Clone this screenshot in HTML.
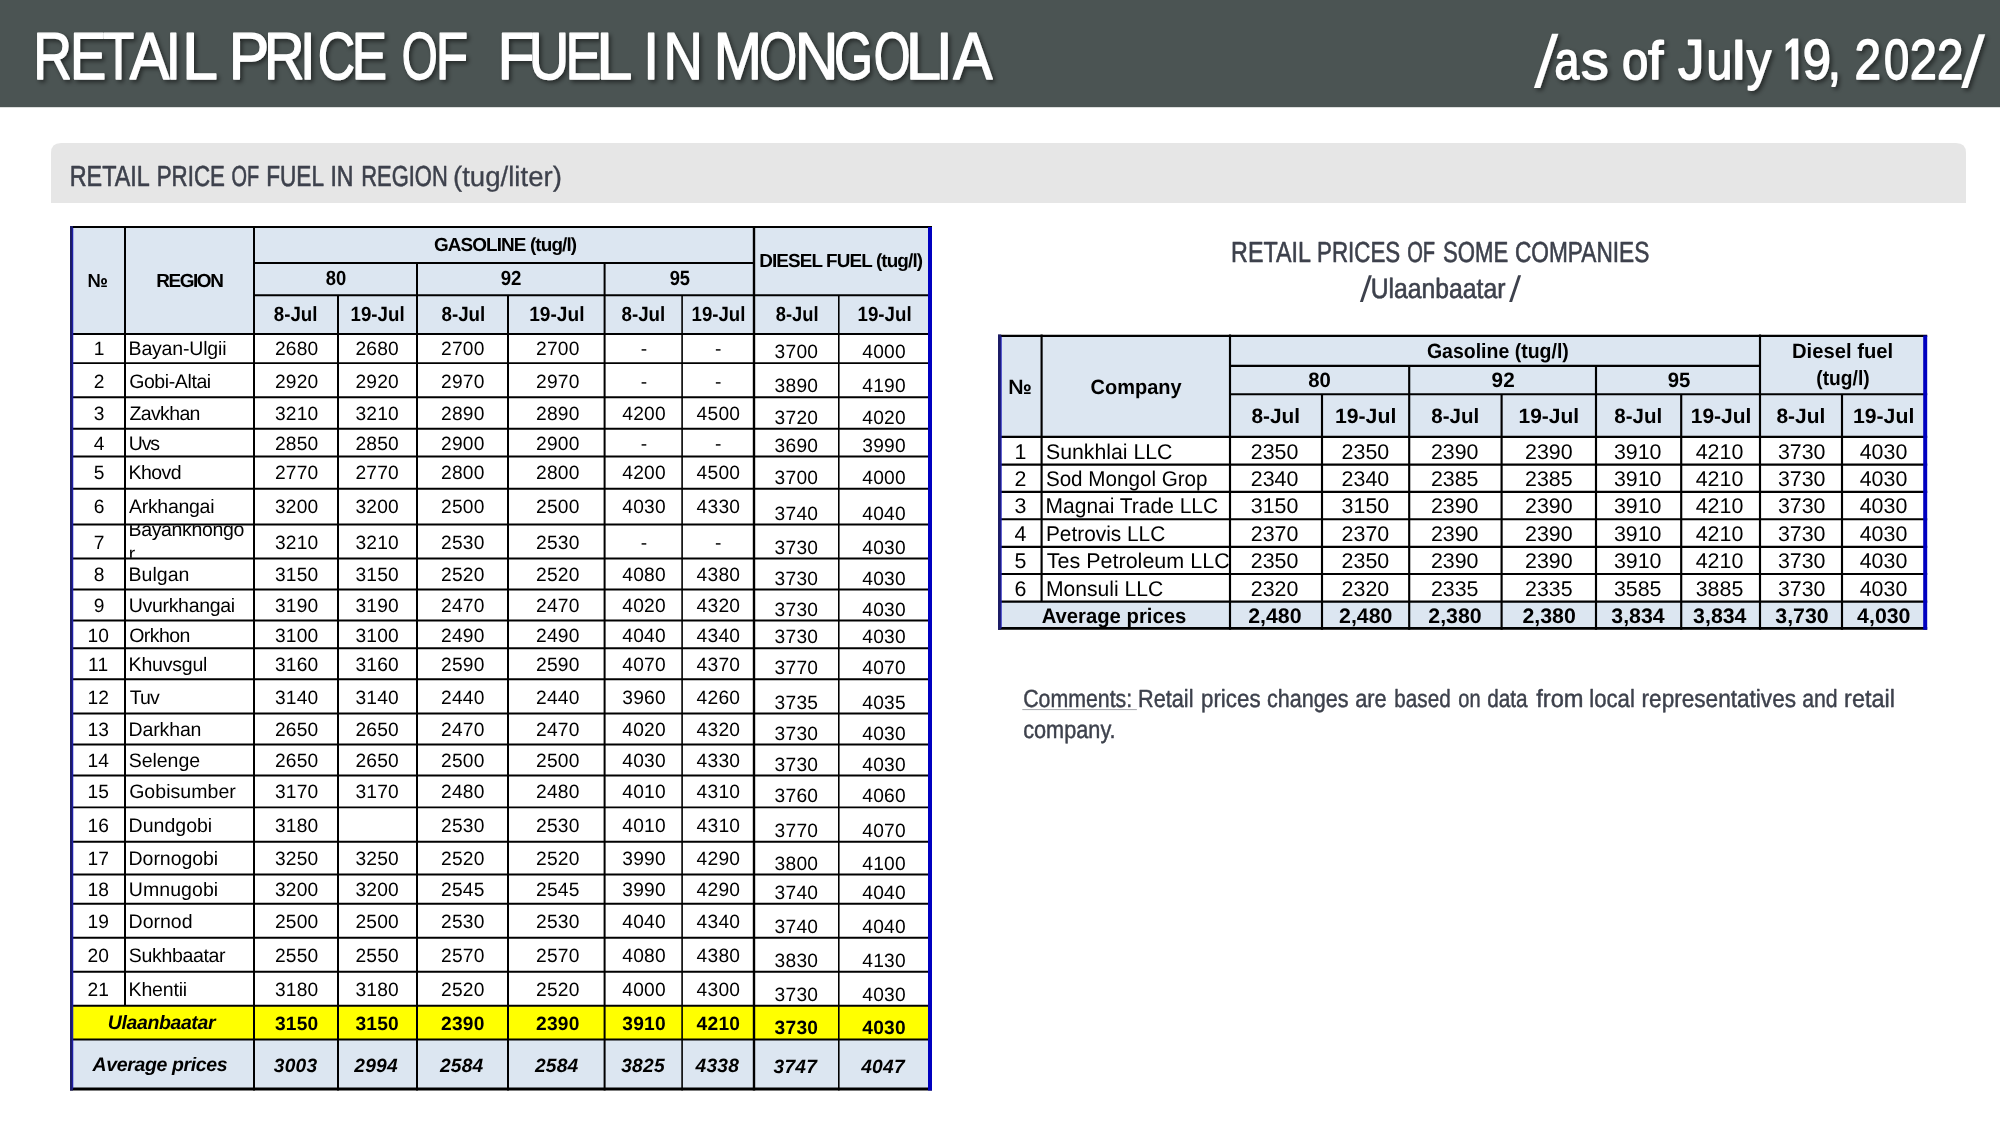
<!DOCTYPE html>
<html><head><meta charset="utf-8"><title>Retail price of fuel in Mongolia</title>
<style>html,body{margin:0;padding:0;background:#fff;}body{width:2000px;height:1125px;overflow:hidden;font-family:"Liberation Sans",sans-serif;}svg{display:block;will-change:transform;}svg text{text-rendering:geometricPrecision;font-family:"Liberation Sans",sans-serif;}</style>
</head><body>
<svg width="2000" height="1125" viewBox="0 0 2000 1125">
<defs><filter id="sh" x="-5%" y="-20%" width="110%" height="150%"><feDropShadow dx="2.3" dy="2.5" stdDeviation="1.9" flood-color="#000" flood-opacity="0.5"/></filter><linearGradient id="hb" x1="0" y1="0" x2="0" y2="1"><stop offset="0" stop-color="#4b5453"/><stop offset="1" stop-color="#4b5453"/></linearGradient></defs>
<rect x="0" y="0" width="2000" height="1125" fill="#fff"/>
<rect x="0" y="0" width="2000" height="107.2" fill="#4b5453"/>
<path d="M51 203 V153 Q51 143 61 143 H1956 Q1966 143 1966 153 V203 Z" fill="#e6e6e6"/>
<g filter="url(#sh)" fill="#fff">
<text x="33.17" y="78.50" font-size="66.7" fill="#ffffff" stroke="#ffffff" stroke-width="1.4" stroke-linejoin="round" textLength="38.74" lengthAdjust="spacingAndGlyphs">R</text>
<text x="70.02" y="78.50" font-size="66.7" fill="#ffffff" stroke="#ffffff" stroke-width="1.4" stroke-linejoin="round" textLength="36.28" lengthAdjust="spacingAndGlyphs">E</text>
<text x="102.84" y="78.50" font-size="66.7" fill="#ffffff" stroke="#ffffff" stroke-width="1.4" stroke-linejoin="round" textLength="31.57" lengthAdjust="spacingAndGlyphs">T</text>
<text x="129.72" y="78.50" font-size="66.7" fill="#ffffff" stroke="#ffffff" stroke-width="1.4" stroke-linejoin="round" textLength="39.67" lengthAdjust="spacingAndGlyphs">A</text>
<text x="165.86" y="78.50" font-size="66.7" fill="#ffffff" stroke="#ffffff" stroke-width="1.4" stroke-linejoin="round" textLength="15.08" lengthAdjust="spacingAndGlyphs">I</text>
<text x="181.88" y="78.50" font-size="66.7" fill="#ffffff" stroke="#ffffff" stroke-width="1.4" stroke-linejoin="round" textLength="35.95" lengthAdjust="spacingAndGlyphs">L</text>
<text x="228.74" y="78.50" font-size="66.7" fill="#ffffff" stroke="#ffffff" stroke-width="1.4" stroke-linejoin="round" textLength="40.43" lengthAdjust="spacingAndGlyphs">P</text>
<text x="263.98" y="78.50" font-size="66.7" fill="#ffffff" stroke="#ffffff" stroke-width="1.4" stroke-linejoin="round" textLength="40.51" lengthAdjust="spacingAndGlyphs">R</text>
<text x="299.92" y="78.50" font-size="66.7" fill="#ffffff" stroke="#ffffff" stroke-width="1.4" stroke-linejoin="round" textLength="15.42" lengthAdjust="spacingAndGlyphs">I</text>
<text x="317.69" y="78.50" font-size="66.7" fill="#ffffff" stroke="#ffffff" stroke-width="1.4" stroke-linejoin="round" textLength="37.35" lengthAdjust="spacingAndGlyphs">C</text>
<text x="351.85" y="78.50" font-size="66.7" fill="#ffffff" stroke="#ffffff" stroke-width="1.4" stroke-linejoin="round" textLength="35.26" lengthAdjust="spacingAndGlyphs">E</text>
<text x="401.76" y="78.50" font-size="66.7" fill="#ffffff" stroke="#ffffff" stroke-width="1.4" stroke-linejoin="round" textLength="35.92" lengthAdjust="spacingAndGlyphs">O</text>
<text x="435.73" y="78.50" font-size="66.7" fill="#ffffff" stroke="#ffffff" stroke-width="1.4" stroke-linejoin="round" textLength="32.45" lengthAdjust="spacingAndGlyphs">F</text>
<text x="497.50" y="78.50" font-size="66.7" fill="#ffffff" stroke="#ffffff" stroke-width="1.4" stroke-linejoin="round" textLength="37.08" lengthAdjust="spacingAndGlyphs">F</text>
<text x="528.68" y="78.50" font-size="66.7" fill="#ffffff" stroke="#ffffff" stroke-width="1.4" stroke-linejoin="round" textLength="40.50" lengthAdjust="spacingAndGlyphs">U</text>
<text x="565.56" y="78.50" font-size="66.7" fill="#ffffff" stroke="#ffffff" stroke-width="1.4" stroke-linejoin="round" textLength="35.92" lengthAdjust="spacingAndGlyphs">E</text>
<text x="596.35" y="78.50" font-size="66.7" fill="#ffffff" stroke="#ffffff" stroke-width="1.4" stroke-linejoin="round" textLength="36.12" lengthAdjust="spacingAndGlyphs">L</text>
<text x="643.19" y="78.50" font-size="66.7" fill="#ffffff" stroke="#ffffff" stroke-width="1.4" stroke-linejoin="round" textLength="15.74" lengthAdjust="spacingAndGlyphs">I</text>
<text x="663.44" y="78.50" font-size="66.7" fill="#ffffff" stroke="#ffffff" stroke-width="1.4" stroke-linejoin="round" textLength="39.31" lengthAdjust="spacingAndGlyphs">N</text>
<text x="713.86" y="78.50" font-size="66.7" fill="#ffffff" stroke="#ffffff" stroke-width="1.4" stroke-linejoin="round" textLength="48.24" lengthAdjust="spacingAndGlyphs">M</text>
<text x="759.28" y="78.50" font-size="66.7" fill="#ffffff" stroke="#ffffff" stroke-width="1.4" stroke-linejoin="round" textLength="37.79" lengthAdjust="spacingAndGlyphs">O</text>
<text x="794.80" y="78.50" font-size="66.7" fill="#ffffff" stroke="#ffffff" stroke-width="1.4" stroke-linejoin="round" textLength="43.60" lengthAdjust="spacingAndGlyphs">N</text>
<text x="833.96" y="78.50" font-size="66.7" fill="#ffffff" stroke="#ffffff" stroke-width="1.4" stroke-linejoin="round" textLength="38.92" lengthAdjust="spacingAndGlyphs">G</text>
<text x="873.66" y="78.50" font-size="66.7" fill="#ffffff" stroke="#ffffff" stroke-width="1.4" stroke-linejoin="round" textLength="36.66" lengthAdjust="spacingAndGlyphs">O</text>
<text x="905.80" y="78.50" font-size="66.7" fill="#ffffff" stroke="#ffffff" stroke-width="1.4" stroke-linejoin="round" textLength="35.37" lengthAdjust="spacingAndGlyphs">L</text>
<text x="935.96" y="78.50" font-size="66.7" fill="#ffffff" stroke="#ffffff" stroke-width="1.4" stroke-linejoin="round" textLength="16.66" lengthAdjust="spacingAndGlyphs">I</text>
<text x="953.26" y="78.50" font-size="66.7" fill="#ffffff" stroke="#ffffff" stroke-width="1.4" stroke-linejoin="round" textLength="39.24" lengthAdjust="spacingAndGlyphs">A</text>
<text x="1554.46" y="78.80" font-size="53.6" fill="#ffffff" stroke="#ffffff" stroke-width="1.5" stroke-linejoin="round" textLength="24.77" lengthAdjust="spacingAndGlyphs">a</text>
<text x="1580.97" y="78.80" font-size="53.6" fill="#ffffff" stroke="#ffffff" stroke-width="1.5" stroke-linejoin="round" textLength="27.63" lengthAdjust="spacingAndGlyphs">s</text>
<text x="1621.94" y="78.80" font-size="53.6" fill="#ffffff" stroke="#ffffff" stroke-width="1.5" stroke-linejoin="round" textLength="26.26" lengthAdjust="spacingAndGlyphs">o</text>
<text x="1648.14" y="78.80" font-size="53.6" fill="#ffffff" stroke="#ffffff" stroke-width="1.5" stroke-linejoin="round" textLength="15.24" lengthAdjust="spacingAndGlyphs">f</text>
<text x="1677.93" y="78.80" font-size="56.5" fill="#ffffff" stroke="#ffffff" stroke-width="1.5" stroke-linejoin="round" textLength="26.31" lengthAdjust="spacingAndGlyphs">J</text>
<text x="1706.60" y="78.80" font-size="53.6" fill="#ffffff" stroke="#ffffff" stroke-width="1.5" stroke-linejoin="round" textLength="25.86" lengthAdjust="spacingAndGlyphs">u</text>
<text x="1731.92" y="78.80" font-size="53.6" fill="#ffffff" stroke="#ffffff" stroke-width="1.5" stroke-linejoin="round" textLength="13.40" lengthAdjust="spacingAndGlyphs">l</text>
<text x="1746.78" y="78.80" font-size="53.6" fill="#ffffff" stroke="#ffffff" stroke-width="1.5" stroke-linejoin="round" textLength="24.55" lengthAdjust="spacingAndGlyphs">y</text>
<text x="1802.71" y="78.80" font-size="56.5" fill="#ffffff" stroke="#ffffff" stroke-width="1.5" stroke-linejoin="round" textLength="28.24" lengthAdjust="spacingAndGlyphs">9</text>
<text x="1827.80" y="78.80" font-size="56.5" fill="#ffffff" stroke="#ffffff" stroke-width="1.5" stroke-linejoin="round" textLength="13.08" lengthAdjust="spacingAndGlyphs">,</text>
<text x="1854.54" y="78.80" font-size="56.5" fill="#ffffff" stroke="#ffffff" stroke-width="1.5" stroke-linejoin="round" textLength="26.49" lengthAdjust="spacingAndGlyphs">2</text>
<text x="1883.94" y="78.80" font-size="56.5" fill="#ffffff" stroke="#ffffff" stroke-width="1.5" stroke-linejoin="round" textLength="25.19" lengthAdjust="spacingAndGlyphs">0</text>
<text x="1909.65" y="78.80" font-size="56.5" fill="#ffffff" stroke="#ffffff" stroke-width="1.5" stroke-linejoin="round" textLength="27.11" lengthAdjust="spacingAndGlyphs">2</text>
<text x="1937.07" y="78.80" font-size="56.5" fill="#ffffff" stroke="#ffffff" stroke-width="1.5" stroke-linejoin="round" textLength="26.44" lengthAdjust="spacingAndGlyphs">2</text>
<path d="M1798.2 38.6 L1798.2 79.6 L1791.6 79.6 L1791.6 46.2 L1785.6 51.6 L1785.6 44.6 L1792.4 38.6 Z"/>
<path d="M1533.9 88.1 L1540.3 88.1 L1558.4 33.7 L1552.0 33.7 Z"/>
<path d="M1961.2 88.1 L1967.6 88.1 L1985.2 34.3 L1978.8 34.3 Z"/>
</g>
<text x="69.67" y="185.70" font-size="29.0" fill="#3d414c" stroke="#3d414c" stroke-width="0.6" stroke-linejoin="round" textLength="80.18" lengthAdjust="spacingAndGlyphs">RETAIL</text>
<text x="156.72" y="185.70" font-size="29.0" fill="#3d414c" stroke="#3d414c" stroke-width="0.6" stroke-linejoin="round" textLength="68.22" lengthAdjust="spacingAndGlyphs">PRICE</text>
<text x="231.52" y="185.70" font-size="29.0" fill="#3d414c" stroke="#3d414c" stroke-width="0.6" stroke-linejoin="round" textLength="27.64" lengthAdjust="spacingAndGlyphs">OF</text>
<text x="266.20" y="185.70" font-size="29.0" fill="#3d414c" stroke="#3d414c" stroke-width="0.6" stroke-linejoin="round" textLength="57.81" lengthAdjust="spacingAndGlyphs">FUEL</text>
<text x="330.45" y="185.70" font-size="29.0" fill="#3d414c" stroke="#3d414c" stroke-width="0.6" stroke-linejoin="round" textLength="23.10" lengthAdjust="spacingAndGlyphs">IN</text>
<text x="361.28" y="185.70" font-size="29.0" fill="#3d414c" stroke="#3d414c" stroke-width="0.6" stroke-linejoin="round" textLength="86.48" lengthAdjust="spacingAndGlyphs">REGION</text>
<text x="453.03" y="185.70" font-size="28.0" fill="#3d414c" stroke="#3d414c" stroke-width="0.3" stroke-linejoin="round" textLength="108.84" lengthAdjust="spacingAndGlyphs">(tug/liter)</text>
<text x="1231.11" y="262.20" font-size="29.0" fill="#3d414c" stroke="#3d414c" stroke-width="0.6" stroke-linejoin="round" textLength="79.75" lengthAdjust="spacingAndGlyphs">RETAIL</text>
<text x="1317.04" y="262.20" font-size="29.0" fill="#3d414c" stroke="#3d414c" stroke-width="0.6" stroke-linejoin="round" textLength="83.23" lengthAdjust="spacingAndGlyphs">PRICES</text>
<text x="1407.14" y="262.20" font-size="29.0" fill="#3d414c" stroke="#3d414c" stroke-width="0.6" stroke-linejoin="round" textLength="27.96" lengthAdjust="spacingAndGlyphs">OF</text>
<text x="1443.10" y="262.20" font-size="29.0" fill="#3d414c" stroke="#3d414c" stroke-width="0.6" stroke-linejoin="round" textLength="65.20" lengthAdjust="spacingAndGlyphs">SOME</text>
<text x="1514.98" y="262.20" font-size="29.0" fill="#3d414c" stroke="#3d414c" stroke-width="0.6" stroke-linejoin="round" textLength="134.39" lengthAdjust="spacingAndGlyphs">COMPANIES</text>
<text x="1370.71" y="297.70" font-size="28.0" fill="#3d414c" stroke="#3d414c" stroke-width="0.6" stroke-linejoin="round" textLength="134.69" lengthAdjust="spacingAndGlyphs">Ulaanbaatar</text>
<text x="1023.15" y="707.30" font-size="24.9" fill="#3d414c" stroke="#3d414c" stroke-width="0.45" stroke-linejoin="round" textLength="108.99" lengthAdjust="spacingAndGlyphs">Comments:</text>
<text x="1137.96" y="707.30" font-size="24.9" fill="#3d414c" stroke="#3d414c" stroke-width="0.45" stroke-linejoin="round" textLength="55.52" lengthAdjust="spacingAndGlyphs">Retail</text>
<text x="1201.03" y="707.30" font-size="24.9" fill="#3d414c" stroke="#3d414c" stroke-width="0.45" stroke-linejoin="round" textLength="59.56" lengthAdjust="spacingAndGlyphs">prices</text>
<text x="1266.93" y="707.30" font-size="24.9" fill="#3d414c" stroke="#3d414c" stroke-width="0.45" stroke-linejoin="round" textLength="81.50" lengthAdjust="spacingAndGlyphs">changes</text>
<text x="1355.18" y="707.30" font-size="24.9" fill="#3d414c" stroke="#3d414c" stroke-width="0.45" stroke-linejoin="round" textLength="31.52" lengthAdjust="spacingAndGlyphs">are</text>
<text x="1394.36" y="707.30" font-size="24.9" fill="#3d414c" stroke="#3d414c" stroke-width="0.45" stroke-linejoin="round" textLength="56.32" lengthAdjust="spacingAndGlyphs">based</text>
<text x="1458.34" y="707.30" font-size="24.9" fill="#3d414c" stroke="#3d414c" stroke-width="0.45" stroke-linejoin="round" textLength="22.28" lengthAdjust="spacingAndGlyphs">on</text>
<text x="1487.28" y="707.30" font-size="24.9" fill="#3d414c" stroke="#3d414c" stroke-width="0.45" stroke-linejoin="round" textLength="40.37" lengthAdjust="spacingAndGlyphs">data</text>
<text x="1536.25" y="707.30" font-size="24.9" fill="#3d414c" stroke="#3d414c" stroke-width="0.45" stroke-linejoin="round" textLength="47.31" lengthAdjust="spacingAndGlyphs">from</text>
<text x="1589.24" y="707.30" font-size="24.9" fill="#3d414c" stroke="#3d414c" stroke-width="0.45" stroke-linejoin="round" textLength="45.62" lengthAdjust="spacingAndGlyphs">local</text>
<text x="1641.55" y="707.30" font-size="24.9" fill="#3d414c" stroke="#3d414c" stroke-width="0.45" stroke-linejoin="round" textLength="154.50" lengthAdjust="spacingAndGlyphs">representatives</text>
<text x="1802.17" y="707.30" font-size="24.9" fill="#3d414c" stroke="#3d414c" stroke-width="0.45" stroke-linejoin="round" textLength="35.42" lengthAdjust="spacingAndGlyphs">and</text>
<text x="1844.08" y="707.30" font-size="24.9" fill="#3d414c" stroke="#3d414c" stroke-width="0.45" stroke-linejoin="round" textLength="50.76" lengthAdjust="spacingAndGlyphs">retail</text>
<text x="1023.17" y="737.60" font-size="24.9" fill="#3d414c" stroke="#3d414c" stroke-width="0.45" stroke-linejoin="round" textLength="92.51" lengthAdjust="spacingAndGlyphs">company.</text>
<path d="M1359.9 301.9 L1362.9 301.9 L1371.9 275.2 L1368.9 275.2 Z" fill="#3d414c"/>
<path d="M1509.1 301.9 L1512.1 301.9 L1521.1 275.2 L1518.1 275.2 Z" fill="#3d414c"/>
<line x1="1022.3" y1="709.6" x2="1136.9" y2="709.6" stroke="#a3a5aa" stroke-width="1"/>
<g id="lt">
<rect x="71" y="227" width="860" height="106.89999999999998" fill="#dce6f1"/>
<rect x="71" y="1005.75" width="860" height="33.75" fill="#ffff00"/>
<rect x="71" y="1039.5" width="860" height="50.0" fill="#dce6f1"/>
<line x1="70" y1="227" x2="932" y2="227" stroke="#000" stroke-width="2"/>
<line x1="254" y1="263" x2="754" y2="263" stroke="#000" stroke-width="2"/>
<line x1="254" y1="295.2" x2="932" y2="295.2" stroke="#000" stroke-width="2"/>
<line x1="70" y1="333.9" x2="932" y2="333.9" stroke="#000" stroke-width="2"/>
<line x1="70" y1="363.1" x2="932" y2="363.1" stroke="#000" stroke-width="1.9"/>
<line x1="70" y1="397.3" x2="932" y2="397.3" stroke="#000" stroke-width="1.9"/>
<line x1="70" y1="428.8" x2="932" y2="428.8" stroke="#000" stroke-width="1.9"/>
<line x1="70" y1="456.5" x2="932" y2="456.5" stroke="#000" stroke-width="1.9"/>
<line x1="70" y1="488.8" x2="932" y2="488.8" stroke="#000" stroke-width="1.9"/>
<line x1="70" y1="524.5" x2="932" y2="524.5" stroke="#000" stroke-width="1.9"/>
<line x1="70" y1="558.5" x2="932" y2="558.5" stroke="#000" stroke-width="1.9"/>
<line x1="70" y1="589.5" x2="932" y2="589.5" stroke="#000" stroke-width="1.9"/>
<line x1="70" y1="620.5" x2="932" y2="620.5" stroke="#000" stroke-width="1.9"/>
<line x1="70" y1="648.2" x2="932" y2="648.2" stroke="#000" stroke-width="1.9"/>
<line x1="70" y1="679.2" x2="932" y2="679.2" stroke="#000" stroke-width="1.9"/>
<line x1="70" y1="713.5" x2="932" y2="713.5" stroke="#000" stroke-width="1.9"/>
<line x1="70" y1="744.5" x2="932" y2="744.5" stroke="#000" stroke-width="1.9"/>
<line x1="70" y1="775.5" x2="932" y2="775.5" stroke="#000" stroke-width="1.9"/>
<line x1="70" y1="807.4" x2="932" y2="807.4" stroke="#000" stroke-width="1.9"/>
<line x1="70" y1="841.8" x2="932" y2="841.8" stroke="#000" stroke-width="1.9"/>
<line x1="70" y1="874.5" x2="932" y2="874.5" stroke="#000" stroke-width="1.9"/>
<line x1="70" y1="903.8" x2="932" y2="903.8" stroke="#000" stroke-width="1.9"/>
<line x1="70" y1="937.8" x2="932" y2="937.8" stroke="#000" stroke-width="1.9"/>
<line x1="70" y1="971.8" x2="932" y2="971.8" stroke="#000" stroke-width="1.9"/>
<line x1="70" y1="1005.75" x2="932" y2="1005.75" stroke="#000" stroke-width="2"/>
<line x1="70" y1="1039.5" x2="932" y2="1039.5" stroke="#000" stroke-width="2"/>
<line x1="70" y1="1089" x2="932" y2="1089" stroke="#000" stroke-width="3"/>
<line x1="125" y1="226" x2="125" y2="1005.75" stroke="#000" stroke-width="2"/>
<line x1="254" y1="226" x2="254" y2="1090.5" stroke="#000" stroke-width="2"/>
<line x1="338" y1="295.2" x2="338" y2="1090.5" stroke="#000" stroke-width="2"/>
<line x1="417" y1="263" x2="417" y2="1090.5" stroke="#000" stroke-width="2"/>
<line x1="508" y1="295.2" x2="508" y2="1090.5" stroke="#000" stroke-width="2"/>
<line x1="604.6" y1="263" x2="604.6" y2="1090.5" stroke="#000" stroke-width="2"/>
<line x1="682.1" y1="295.2" x2="682.1" y2="1090.5" stroke="#000" stroke-width="1.6"/>
<line x1="754" y1="226" x2="754" y2="1090.5" stroke="#000" stroke-width="2.4"/>
<line x1="838.8" y1="295.2" x2="838.8" y2="1090.5" stroke="#000" stroke-width="1.6"/>
<line x1="71.5" y1="226" x2="71.5" y2="1090.5" stroke="#1c1c66" stroke-width="3"/>
<line x1="72.8" y1="228" x2="72.8" y2="1088.5" stroke="#2020c8" stroke-width="0.9"/>
<line x1="930" y1="227" x2="930" y2="1090.5" stroke="#0000c0" stroke-width="4"/>
<text x="87.60" y="287.00" font-size="18.9" font-weight="bold" textLength="20.48" lengthAdjust="spacingAndGlyphs">№</text>
<text x="156.15" y="287.00" font-size="18.9" font-weight="bold" textLength="67.65" lengthAdjust="spacing">REGION</text>
<text x="434.03" y="251.00" font-size="18.9" font-weight="bold" textLength="143.01" lengthAdjust="spacing">GASOLINE (tug/l)</text>
<text x="759.15" y="267.00" font-size="18.9" font-weight="bold" textLength="163.89" lengthAdjust="spacing">DIESEL FUEL (tug/l)</text>
<text x="325.80" y="285.20" font-size="20.6" font-weight="bold" textLength="20.47" lengthAdjust="spacingAndGlyphs">80</text>
<text x="500.65" y="285.20" font-size="20.6" font-weight="bold" textLength="20.78" lengthAdjust="spacingAndGlyphs">92</text>
<text x="669.67" y="285.20" font-size="20.6" font-weight="bold" textLength="20.44" lengthAdjust="spacingAndGlyphs">95</text>
<text x="273.78" y="321.20" font-size="20.6" font-weight="bold" textLength="43.73" lengthAdjust="spacingAndGlyphs">8-Jul</text>
<text x="350.57" y="321.20" font-size="20.6" font-weight="bold" textLength="54.05" lengthAdjust="spacingAndGlyphs">19-Jul</text>
<text x="441.53" y="321.20" font-size="20.6" font-weight="bold" textLength="43.71" lengthAdjust="spacingAndGlyphs">8-Jul</text>
<text x="529.16" y="321.20" font-size="20.6" font-weight="bold" textLength="55.31" lengthAdjust="spacingAndGlyphs">19-Jul</text>
<text x="621.53" y="321.20" font-size="20.6" font-weight="bold" textLength="43.71" lengthAdjust="spacingAndGlyphs">8-Jul</text>
<text x="691.59" y="321.20" font-size="20.6" font-weight="bold" textLength="53.84" lengthAdjust="spacingAndGlyphs">19-Jul</text>
<text x="775.84" y="321.20" font-size="20.6" font-weight="bold" textLength="42.78" lengthAdjust="spacingAndGlyphs">8-Jul</text>
<text x="857.57" y="321.20" font-size="20.6" font-weight="bold" textLength="54.05" lengthAdjust="spacingAndGlyphs">19-Jul</text>
<text x="99.3" y="354.9" font-size="19.2" text-anchor="middle" letter-spacing="0.22">1</text>
<text x="128.57" y="354.90" font-size="19.5" textLength="97.90" lengthAdjust="spacing">Bayan-Ulgii</text>
<text x="296.70000000000005" y="354.9" font-size="19.2" text-anchor="middle" letter-spacing="0.22">2680</text>
<text x="377.20000000000005" y="354.9" font-size="19.2" text-anchor="middle" letter-spacing="0.22">2680</text>
<text x="462.8" y="354.9" font-size="19.2" text-anchor="middle" letter-spacing="0.22">2700</text>
<text x="557.8000000000001" y="354.9" font-size="19.2" text-anchor="middle" letter-spacing="0.22">2700</text>
<text x="644" y="354.9" font-size="19.2" text-anchor="middle" letter-spacing="0.22">-</text>
<text x="718.3" y="354.9" font-size="19.2" text-anchor="middle" letter-spacing="0.22">-</text>
<text x="796.4" y="358.1" font-size="19.2" text-anchor="middle" letter-spacing="0.22">3700</text>
<text x="884.1" y="358.1" font-size="19.2" text-anchor="middle" letter-spacing="0.22">4000</text>
<text x="99.3" y="388.09999999999997" font-size="19.2" text-anchor="middle" letter-spacing="0.22">2</text>
<text x="129.15" y="388.10" font-size="19.5" textLength="82.05" lengthAdjust="spacing">Gobi-Altai</text>
<text x="296.70000000000005" y="388.09999999999997" font-size="19.2" text-anchor="middle" letter-spacing="0.22">2920</text>
<text x="377.20000000000005" y="388.09999999999997" font-size="19.2" text-anchor="middle" letter-spacing="0.22">2920</text>
<text x="462.8" y="388.09999999999997" font-size="19.2" text-anchor="middle" letter-spacing="0.22">2970</text>
<text x="557.8000000000001" y="388.09999999999997" font-size="19.2" text-anchor="middle" letter-spacing="0.22">2970</text>
<text x="644" y="388.09999999999997" font-size="19.2" text-anchor="middle" letter-spacing="0.22">-</text>
<text x="718.3" y="388.09999999999997" font-size="19.2" text-anchor="middle" letter-spacing="0.22">-</text>
<text x="796.4" y="392.3" font-size="19.2" text-anchor="middle" letter-spacing="0.22">3890</text>
<text x="884.1" y="392.3" font-size="19.2" text-anchor="middle" letter-spacing="0.22">4190</text>
<text x="99.3" y="420.09999999999997" font-size="19.2" text-anchor="middle" letter-spacing="0.22">3</text>
<text x="129.44" y="420.10" font-size="19.5" textLength="71.03" lengthAdjust="spacing">Zavkhan</text>
<text x="296.70000000000005" y="420.09999999999997" font-size="19.2" text-anchor="middle" letter-spacing="0.22">3210</text>
<text x="377.20000000000005" y="420.09999999999997" font-size="19.2" text-anchor="middle" letter-spacing="0.22">3210</text>
<text x="462.8" y="420.09999999999997" font-size="19.2" text-anchor="middle" letter-spacing="0.22">2890</text>
<text x="557.8000000000001" y="420.09999999999997" font-size="19.2" text-anchor="middle" letter-spacing="0.22">2890</text>
<text x="644.1" y="420.09999999999997" font-size="19.2" text-anchor="middle" letter-spacing="0.22">4200</text>
<text x="718.4" y="420.09999999999997" font-size="19.2" text-anchor="middle" letter-spacing="0.22">4500</text>
<text x="796.4" y="423.8" font-size="19.2" text-anchor="middle" letter-spacing="0.22">3720</text>
<text x="884.1" y="423.8" font-size="19.2" text-anchor="middle" letter-spacing="0.22">4020</text>
<text x="99.3" y="449.9" font-size="19.2" text-anchor="middle" letter-spacing="0.22">4</text>
<text x="128.72" y="449.90" font-size="19.5" textLength="31.40" lengthAdjust="spacing">Uvs</text>
<text x="296.70000000000005" y="449.9" font-size="19.2" text-anchor="middle" letter-spacing="0.22">2850</text>
<text x="377.20000000000005" y="449.9" font-size="19.2" text-anchor="middle" letter-spacing="0.22">2850</text>
<text x="462.8" y="449.9" font-size="19.2" text-anchor="middle" letter-spacing="0.22">2900</text>
<text x="557.8000000000001" y="449.9" font-size="19.2" text-anchor="middle" letter-spacing="0.22">2900</text>
<text x="644" y="449.9" font-size="19.2" text-anchor="middle" letter-spacing="0.22">-</text>
<text x="718.3" y="449.9" font-size="19.2" text-anchor="middle" letter-spacing="0.22">-</text>
<text x="796.4" y="451.5" font-size="19.2" text-anchor="middle" letter-spacing="0.22">3690</text>
<text x="884.1" y="451.5" font-size="19.2" text-anchor="middle" letter-spacing="0.22">3990</text>
<text x="99.3" y="478.9" font-size="19.2" text-anchor="middle" letter-spacing="0.22">5</text>
<text x="128.57" y="478.90" font-size="19.5" textLength="52.99" lengthAdjust="spacing">Khovd</text>
<text x="296.70000000000005" y="478.9" font-size="19.2" text-anchor="middle" letter-spacing="0.22">2770</text>
<text x="377.20000000000005" y="478.9" font-size="19.2" text-anchor="middle" letter-spacing="0.22">2770</text>
<text x="462.8" y="478.9" font-size="19.2" text-anchor="middle" letter-spacing="0.22">2800</text>
<text x="557.8000000000001" y="478.9" font-size="19.2" text-anchor="middle" letter-spacing="0.22">2800</text>
<text x="644.1" y="478.9" font-size="19.2" text-anchor="middle" letter-spacing="0.22">4200</text>
<text x="718.4" y="478.9" font-size="19.2" text-anchor="middle" letter-spacing="0.22">4500</text>
<text x="796.4" y="483.8" font-size="19.2" text-anchor="middle" letter-spacing="0.22">3700</text>
<text x="884.1" y="483.8" font-size="19.2" text-anchor="middle" letter-spacing="0.22">4000</text>
<text x="99.3" y="512.9" font-size="19.2" text-anchor="middle" letter-spacing="0.22">6</text>
<text x="128.99" y="512.90" font-size="19.5" textLength="85.48" lengthAdjust="spacing">Arkhangai</text>
<text x="296.70000000000005" y="512.9" font-size="19.2" text-anchor="middle" letter-spacing="0.22">3200</text>
<text x="377.20000000000005" y="512.9" font-size="19.2" text-anchor="middle" letter-spacing="0.22">3200</text>
<text x="462.8" y="512.9" font-size="19.2" text-anchor="middle" letter-spacing="0.22">2500</text>
<text x="557.8000000000001" y="512.9" font-size="19.2" text-anchor="middle" letter-spacing="0.22">2500</text>
<text x="644.1" y="512.9" font-size="19.2" text-anchor="middle" letter-spacing="0.22">4030</text>
<text x="718.4" y="512.9" font-size="19.2" text-anchor="middle" letter-spacing="0.22">4330</text>
<text x="796.4" y="519.5" font-size="19.2" text-anchor="middle" letter-spacing="0.22">3740</text>
<text x="884.1" y="519.5" font-size="19.2" text-anchor="middle" letter-spacing="0.22">4040</text>
<text x="99.3" y="548.9" font-size="19.2" text-anchor="middle" letter-spacing="0.22">7</text>
<clipPath id="c7"><rect x="126" y="525.3" width="127" height="32.4"/></clipPath>
<g clip-path="url(#c7)">
<text x="128.57" y="535.50" font-size="19.5" textLength="115.81" lengthAdjust="spacing">Bayankhongo</text>
<text x="128.8" y="560" font-size="19.2" text-anchor="start">r</text>
</g>
<text x="296.70000000000005" y="548.9" font-size="19.2" text-anchor="middle" letter-spacing="0.22">3210</text>
<text x="377.20000000000005" y="548.9" font-size="19.2" text-anchor="middle" letter-spacing="0.22">3210</text>
<text x="462.8" y="548.9" font-size="19.2" text-anchor="middle" letter-spacing="0.22">2530</text>
<text x="557.8000000000001" y="548.9" font-size="19.2" text-anchor="middle" letter-spacing="0.22">2530</text>
<text x="644" y="548.9" font-size="19.2" text-anchor="middle" letter-spacing="0.22">-</text>
<text x="718.3" y="548.9" font-size="19.2" text-anchor="middle" letter-spacing="0.22">-</text>
<text x="796.4" y="553.5" font-size="19.2" text-anchor="middle" letter-spacing="0.22">3730</text>
<text x="884.1" y="553.5" font-size="19.2" text-anchor="middle" letter-spacing="0.22">4030</text>
<text x="99.3" y="580.9" font-size="19.2" text-anchor="middle" letter-spacing="0.22">8</text>
<text x="128.57" y="580.90" font-size="19.5" textLength="60.89" lengthAdjust="spacing">Bulgan</text>
<text x="296.70000000000005" y="580.9" font-size="19.2" text-anchor="middle" letter-spacing="0.22">3150</text>
<text x="377.20000000000005" y="580.9" font-size="19.2" text-anchor="middle" letter-spacing="0.22">3150</text>
<text x="462.8" y="580.9" font-size="19.2" text-anchor="middle" letter-spacing="0.22">2520</text>
<text x="557.8000000000001" y="580.9" font-size="19.2" text-anchor="middle" letter-spacing="0.22">2520</text>
<text x="644.1" y="580.9" font-size="19.2" text-anchor="middle" letter-spacing="0.22">4080</text>
<text x="718.4" y="580.9" font-size="19.2" text-anchor="middle" letter-spacing="0.22">4380</text>
<text x="796.4" y="584.5" font-size="19.2" text-anchor="middle" letter-spacing="0.22">3730</text>
<text x="884.1" y="584.5" font-size="19.2" text-anchor="middle" letter-spacing="0.22">4030</text>
<text x="99.3" y="611.9" font-size="19.2" text-anchor="middle" letter-spacing="0.22">9</text>
<text x="128.72" y="611.90" font-size="19.5" textLength="106.48" lengthAdjust="spacing">Uvurkhangai</text>
<text x="296.70000000000005" y="611.9" font-size="19.2" text-anchor="middle" letter-spacing="0.22">3190</text>
<text x="377.20000000000005" y="611.9" font-size="19.2" text-anchor="middle" letter-spacing="0.22">3190</text>
<text x="462.8" y="611.9" font-size="19.2" text-anchor="middle" letter-spacing="0.22">2470</text>
<text x="557.8000000000001" y="611.9" font-size="19.2" text-anchor="middle" letter-spacing="0.22">2470</text>
<text x="644.1" y="611.9" font-size="19.2" text-anchor="middle" letter-spacing="0.22">4020</text>
<text x="718.4" y="611.9" font-size="19.2" text-anchor="middle" letter-spacing="0.22">4320</text>
<text x="796.4" y="615.5" font-size="19.2" text-anchor="middle" letter-spacing="0.22">3730</text>
<text x="884.1" y="615.5" font-size="19.2" text-anchor="middle" letter-spacing="0.22">4030</text>
<text x="98.3" y="641.9" font-size="19.2" text-anchor="middle" letter-spacing="0.22">10</text>
<text x="129.15" y="641.90" font-size="19.5" textLength="61.32" lengthAdjust="spacing">Orkhon</text>
<text x="296.70000000000005" y="641.9" font-size="19.2" text-anchor="middle" letter-spacing="0.22">3100</text>
<text x="377.20000000000005" y="641.9" font-size="19.2" text-anchor="middle" letter-spacing="0.22">3100</text>
<text x="462.8" y="641.9" font-size="19.2" text-anchor="middle" letter-spacing="0.22">2490</text>
<text x="557.8000000000001" y="641.9" font-size="19.2" text-anchor="middle" letter-spacing="0.22">2490</text>
<text x="644.1" y="641.9" font-size="19.2" text-anchor="middle" letter-spacing="0.22">4040</text>
<text x="718.4" y="641.9" font-size="19.2" text-anchor="middle" letter-spacing="0.22">4340</text>
<text x="796.4" y="643.2" font-size="19.2" text-anchor="middle" letter-spacing="0.22">3730</text>
<text x="884.1" y="643.2" font-size="19.2" text-anchor="middle" letter-spacing="0.22">4030</text>
<text x="98.3" y="670.9" font-size="19.2" text-anchor="middle" letter-spacing="0.22">11</text>
<text x="128.57" y="670.90" font-size="19.5" textLength="78.85" lengthAdjust="spacing">Khuvsgul</text>
<text x="296.70000000000005" y="670.9" font-size="19.2" text-anchor="middle" letter-spacing="0.22">3160</text>
<text x="377.20000000000005" y="670.9" font-size="19.2" text-anchor="middle" letter-spacing="0.22">3160</text>
<text x="462.8" y="670.9" font-size="19.2" text-anchor="middle" letter-spacing="0.22">2590</text>
<text x="557.8000000000001" y="670.9" font-size="19.2" text-anchor="middle" letter-spacing="0.22">2590</text>
<text x="644.1" y="670.9" font-size="19.2" text-anchor="middle" letter-spacing="0.22">4070</text>
<text x="718.4" y="670.9" font-size="19.2" text-anchor="middle" letter-spacing="0.22">4370</text>
<text x="796.4" y="674.2" font-size="19.2" text-anchor="middle" letter-spacing="0.22">3770</text>
<text x="884.1" y="674.2" font-size="19.2" text-anchor="middle" letter-spacing="0.22">4070</text>
<text x="98.3" y="703.9" font-size="19.2" text-anchor="middle" letter-spacing="0.22">12</text>
<text x="129.70" y="703.90" font-size="19.5" textLength="29.93" lengthAdjust="spacing">Tuv</text>
<text x="296.70000000000005" y="703.9" font-size="19.2" text-anchor="middle" letter-spacing="0.22">3140</text>
<text x="377.20000000000005" y="703.9" font-size="19.2" text-anchor="middle" letter-spacing="0.22">3140</text>
<text x="462.8" y="703.9" font-size="19.2" text-anchor="middle" letter-spacing="0.22">2440</text>
<text x="557.8000000000001" y="703.9" font-size="19.2" text-anchor="middle" letter-spacing="0.22">2440</text>
<text x="644.1" y="703.9" font-size="19.2" text-anchor="middle" letter-spacing="0.22">3960</text>
<text x="718.4" y="703.9" font-size="19.2" text-anchor="middle" letter-spacing="0.22">4260</text>
<text x="796.4" y="708.5" font-size="19.2" text-anchor="middle" letter-spacing="0.22">3735</text>
<text x="884.1" y="708.5" font-size="19.2" text-anchor="middle" letter-spacing="0.22">4035</text>
<text x="98.3" y="735.9" font-size="19.2" text-anchor="middle" letter-spacing="0.22">13</text>
<text x="128.57" y="735.90" font-size="19.5" textLength="72.89" lengthAdjust="spacing">Darkhan</text>
<text x="296.70000000000005" y="735.9" font-size="19.2" text-anchor="middle" letter-spacing="0.22">2650</text>
<text x="377.20000000000005" y="735.9" font-size="19.2" text-anchor="middle" letter-spacing="0.22">2650</text>
<text x="462.8" y="735.9" font-size="19.2" text-anchor="middle" letter-spacing="0.22">2470</text>
<text x="557.8000000000001" y="735.9" font-size="19.2" text-anchor="middle" letter-spacing="0.22">2470</text>
<text x="644.1" y="735.9" font-size="19.2" text-anchor="middle" letter-spacing="0.22">4020</text>
<text x="718.4" y="735.9" font-size="19.2" text-anchor="middle" letter-spacing="0.22">4320</text>
<text x="796.4" y="739.5" font-size="19.2" text-anchor="middle" letter-spacing="0.22">3730</text>
<text x="884.1" y="739.5" font-size="19.2" text-anchor="middle" letter-spacing="0.22">4030</text>
<text x="98.3" y="766.9" font-size="19.2" text-anchor="middle" letter-spacing="0.22">14</text>
<text x="128.81" y="766.90" font-size="19.5" textLength="71.26" lengthAdjust="spacing">Selenge</text>
<text x="296.70000000000005" y="766.9" font-size="19.2" text-anchor="middle" letter-spacing="0.22">2650</text>
<text x="377.20000000000005" y="766.9" font-size="19.2" text-anchor="middle" letter-spacing="0.22">2650</text>
<text x="462.8" y="766.9" font-size="19.2" text-anchor="middle" letter-spacing="0.22">2500</text>
<text x="557.8000000000001" y="766.9" font-size="19.2" text-anchor="middle" letter-spacing="0.22">2500</text>
<text x="644.1" y="766.9" font-size="19.2" text-anchor="middle" letter-spacing="0.22">4030</text>
<text x="718.4" y="766.9" font-size="19.2" text-anchor="middle" letter-spacing="0.22">4330</text>
<text x="796.4" y="770.5" font-size="19.2" text-anchor="middle" letter-spacing="0.22">3730</text>
<text x="884.1" y="770.5" font-size="19.2" text-anchor="middle" letter-spacing="0.22">4030</text>
<text x="98.3" y="797.9" font-size="19.2" text-anchor="middle" letter-spacing="0.22">15</text>
<text x="129.15" y="797.90" font-size="19.5" textLength="106.71" lengthAdjust="spacing">Gobisumber</text>
<text x="296.70000000000005" y="797.9" font-size="19.2" text-anchor="middle" letter-spacing="0.22">3170</text>
<text x="377.20000000000005" y="797.9" font-size="19.2" text-anchor="middle" letter-spacing="0.22">3170</text>
<text x="462.8" y="797.9" font-size="19.2" text-anchor="middle" letter-spacing="0.22">2480</text>
<text x="557.8000000000001" y="797.9" font-size="19.2" text-anchor="middle" letter-spacing="0.22">2480</text>
<text x="644.1" y="797.9" font-size="19.2" text-anchor="middle" letter-spacing="0.22">4010</text>
<text x="718.4" y="797.9" font-size="19.2" text-anchor="middle" letter-spacing="0.22">4310</text>
<text x="796.4" y="802.4" font-size="19.2" text-anchor="middle" letter-spacing="0.22">3760</text>
<text x="884.1" y="802.4" font-size="19.2" text-anchor="middle" letter-spacing="0.22">4060</text>
<text x="98.3" y="831.9" font-size="19.2" text-anchor="middle" letter-spacing="0.22">16</text>
<text x="128.57" y="831.90" font-size="19.5" textLength="83.64" lengthAdjust="spacing">Dundgobi</text>
<text x="296.70000000000005" y="831.9" font-size="19.2" text-anchor="middle" letter-spacing="0.22">3180</text>
<text x="462.8" y="831.9" font-size="19.2" text-anchor="middle" letter-spacing="0.22">2530</text>
<text x="557.8000000000001" y="831.9" font-size="19.2" text-anchor="middle" letter-spacing="0.22">2530</text>
<text x="644.1" y="831.9" font-size="19.2" text-anchor="middle" letter-spacing="0.22">4010</text>
<text x="718.4" y="831.9" font-size="19.2" text-anchor="middle" letter-spacing="0.22">4310</text>
<text x="796.4" y="836.8" font-size="19.2" text-anchor="middle" letter-spacing="0.22">3770</text>
<text x="884.1" y="836.8" font-size="19.2" text-anchor="middle" letter-spacing="0.22">4070</text>
<text x="98.3" y="864.9" font-size="19.2" text-anchor="middle" letter-spacing="0.22">17</text>
<text x="128.57" y="864.90" font-size="19.5" textLength="89.64" lengthAdjust="spacing">Dornogobi</text>
<text x="296.70000000000005" y="864.9" font-size="19.2" text-anchor="middle" letter-spacing="0.22">3250</text>
<text x="377.20000000000005" y="864.9" font-size="19.2" text-anchor="middle" letter-spacing="0.22">3250</text>
<text x="462.8" y="864.9" font-size="19.2" text-anchor="middle" letter-spacing="0.22">2520</text>
<text x="557.8000000000001" y="864.9" font-size="19.2" text-anchor="middle" letter-spacing="0.22">2520</text>
<text x="644.1" y="864.9" font-size="19.2" text-anchor="middle" letter-spacing="0.22">3990</text>
<text x="718.4" y="864.9" font-size="19.2" text-anchor="middle" letter-spacing="0.22">4290</text>
<text x="796.4" y="869.5" font-size="19.2" text-anchor="middle" letter-spacing="0.22">3800</text>
<text x="884.1" y="869.5" font-size="19.2" text-anchor="middle" letter-spacing="0.22">4100</text>
<text x="98.3" y="895.9" font-size="19.2" text-anchor="middle" letter-spacing="0.22">18</text>
<text x="128.72" y="895.90" font-size="19.5" textLength="89.48" lengthAdjust="spacing">Umnugobi</text>
<text x="296.70000000000005" y="895.9" font-size="19.2" text-anchor="middle" letter-spacing="0.22">3200</text>
<text x="377.20000000000005" y="895.9" font-size="19.2" text-anchor="middle" letter-spacing="0.22">3200</text>
<text x="462.8" y="895.9" font-size="19.2" text-anchor="middle" letter-spacing="0.22">2545</text>
<text x="557.8000000000001" y="895.9" font-size="19.2" text-anchor="middle" letter-spacing="0.22">2545</text>
<text x="644.1" y="895.9" font-size="19.2" text-anchor="middle" letter-spacing="0.22">3990</text>
<text x="718.4" y="895.9" font-size="19.2" text-anchor="middle" letter-spacing="0.22">4290</text>
<text x="796.4" y="898.8" font-size="19.2" text-anchor="middle" letter-spacing="0.22">3740</text>
<text x="884.1" y="898.8" font-size="19.2" text-anchor="middle" letter-spacing="0.22">4040</text>
<text x="98.3" y="927.9" font-size="19.2" text-anchor="middle" letter-spacing="0.22">19</text>
<text x="128.57" y="927.90" font-size="19.5" textLength="63.99" lengthAdjust="spacing">Dornod</text>
<text x="296.70000000000005" y="927.9" font-size="19.2" text-anchor="middle" letter-spacing="0.22">2500</text>
<text x="377.20000000000005" y="927.9" font-size="19.2" text-anchor="middle" letter-spacing="0.22">2500</text>
<text x="462.8" y="927.9" font-size="19.2" text-anchor="middle" letter-spacing="0.22">2530</text>
<text x="557.8000000000001" y="927.9" font-size="19.2" text-anchor="middle" letter-spacing="0.22">2530</text>
<text x="644.1" y="927.9" font-size="19.2" text-anchor="middle" letter-spacing="0.22">4040</text>
<text x="718.4" y="927.9" font-size="19.2" text-anchor="middle" letter-spacing="0.22">4340</text>
<text x="796.4" y="932.8" font-size="19.2" text-anchor="middle" letter-spacing="0.22">3740</text>
<text x="884.1" y="932.8" font-size="19.2" text-anchor="middle" letter-spacing="0.22">4040</text>
<text x="98.3" y="961.9" font-size="19.2" text-anchor="middle" letter-spacing="0.22">20</text>
<text x="128.81" y="961.90" font-size="19.5" textLength="96.77" lengthAdjust="spacing">Sukhbaatar</text>
<text x="296.70000000000005" y="961.9" font-size="19.2" text-anchor="middle" letter-spacing="0.22">2550</text>
<text x="377.20000000000005" y="961.9" font-size="19.2" text-anchor="middle" letter-spacing="0.22">2550</text>
<text x="462.8" y="961.9" font-size="19.2" text-anchor="middle" letter-spacing="0.22">2570</text>
<text x="557.8000000000001" y="961.9" font-size="19.2" text-anchor="middle" letter-spacing="0.22">2570</text>
<text x="644.1" y="961.9" font-size="19.2" text-anchor="middle" letter-spacing="0.22">4080</text>
<text x="718.4" y="961.9" font-size="19.2" text-anchor="middle" letter-spacing="0.22">4380</text>
<text x="796.4" y="966.8" font-size="19.2" text-anchor="middle" letter-spacing="0.22">3830</text>
<text x="884.1" y="966.8" font-size="19.2" text-anchor="middle" letter-spacing="0.22">4130</text>
<text x="98.3" y="995.9" font-size="19.2" text-anchor="middle" letter-spacing="0.22">21</text>
<text x="128.57" y="995.90" font-size="19.5" textLength="58.64" lengthAdjust="spacing">Khentii</text>
<text x="296.70000000000005" y="995.9" font-size="19.2" text-anchor="middle" letter-spacing="0.22">3180</text>
<text x="377.20000000000005" y="995.9" font-size="19.2" text-anchor="middle" letter-spacing="0.22">3180</text>
<text x="462.8" y="995.9" font-size="19.2" text-anchor="middle" letter-spacing="0.22">2520</text>
<text x="557.8000000000001" y="995.9" font-size="19.2" text-anchor="middle" letter-spacing="0.22">2520</text>
<text x="644.1" y="995.9" font-size="19.2" text-anchor="middle" letter-spacing="0.22">4000</text>
<text x="718.4" y="995.9" font-size="19.2" text-anchor="middle" letter-spacing="0.22">4300</text>
<text x="796.4" y="1000.75" font-size="19.2" text-anchor="middle" letter-spacing="0.22">3730</text>
<text x="884.1" y="1000.75" font-size="19.2" text-anchor="middle" letter-spacing="0.22">4030</text>
<text x="107.79" y="1029.00" font-size="19.5" font-weight="bold" font-style="italic" textLength="107.72" lengthAdjust="spacing">Ulaanbaatar</text>
<text x="296.70000000000005" y="1029.9" font-size="19.2" text-anchor="middle" font-weight="bold" letter-spacing="0.22">3150</text>
<text x="377.20000000000005" y="1029.9" font-size="19.2" text-anchor="middle" font-weight="bold" letter-spacing="0.22">3150</text>
<text x="462.8" y="1029.9" font-size="19.2" text-anchor="middle" font-weight="bold" letter-spacing="0.22">2390</text>
<text x="557.8000000000001" y="1029.9" font-size="19.2" text-anchor="middle" font-weight="bold" letter-spacing="0.22">2390</text>
<text x="644.1" y="1029.9" font-size="19.2" text-anchor="middle" font-weight="bold" letter-spacing="0.22">3910</text>
<text x="718.4" y="1029.9" font-size="19.2" text-anchor="middle" font-weight="bold" letter-spacing="0.22">4210</text>
<text x="796.4" y="1034.2" font-size="19.2" text-anchor="middle" font-weight="bold" letter-spacing="0.22">3730</text>
<text x="884.1" y="1034.2" font-size="19.2" text-anchor="middle" font-weight="bold" letter-spacing="0.22">4030</text>
<text x="92.45" y="1071.00" font-size="19.5" font-weight="bold" font-style="italic" textLength="135.20" lengthAdjust="spacing">Average prices</text>
<text x="295.6" y="1071.9" font-size="19.2" text-anchor="middle" font-weight="bold" font-style="italic" letter-spacing="0.22">3003</text>
<text x="376.1" y="1071.9" font-size="19.2" text-anchor="middle" font-weight="bold" font-style="italic" letter-spacing="0.22">2994</text>
<text x="461.7" y="1071.9" font-size="19.2" text-anchor="middle" font-weight="bold" font-style="italic" letter-spacing="0.22">2584</text>
<text x="556.7" y="1071.9" font-size="19.2" text-anchor="middle" font-weight="bold" font-style="italic" letter-spacing="0.22">2584</text>
<text x="643.0" y="1071.9" font-size="19.2" text-anchor="middle" font-weight="bold" font-style="italic" letter-spacing="0.22">3825</text>
<text x="717.3" y="1071.9" font-size="19.2" text-anchor="middle" font-weight="bold" font-style="italic" letter-spacing="0.22">4338</text>
<text x="795.3" y="1072.5" font-size="19.2" text-anchor="middle" font-weight="bold" font-style="italic" letter-spacing="0.22">3747</text>
<text x="883.0" y="1072.5" font-size="19.2" text-anchor="middle" font-weight="bold" font-style="italic" letter-spacing="0.22">4047</text>
</g>
<g id="rt">
<rect x="999" y="335.6" width="927.2" height="101.19999999999999" fill="#dce6f1"/>
<rect x="999" y="601.6" width="927.2" height="27.199999999999932" fill="#dce6f1"/>
<line x1="998" y1="335.8" x2="1927.2" y2="335.8" stroke="#000" stroke-width="2.15"/>
<line x1="1230" y1="365.8" x2="1760" y2="365.8" stroke="#000" stroke-width="2.15"/>
<line x1="1230" y1="394.2" x2="1927.2" y2="394.2" stroke="#000" stroke-width="2.15"/>
<line x1="998" y1="436.8" x2="1927.2" y2="436.8" stroke="#000" stroke-width="2.15"/>
<line x1="998" y1="464.6" x2="1927.2" y2="464.6" stroke="#000" stroke-width="2.15"/>
<line x1="998" y1="491.8" x2="1927.2" y2="491.8" stroke="#000" stroke-width="2.15"/>
<line x1="998" y1="519.2" x2="1927.2" y2="519.2" stroke="#000" stroke-width="2.15"/>
<line x1="998" y1="546.8" x2="1927.2" y2="546.8" stroke="#000" stroke-width="2.15"/>
<line x1="998" y1="574" x2="1927.2" y2="574" stroke="#000" stroke-width="2.15"/>
<line x1="998" y1="601.6" x2="1927.2" y2="601.6" stroke="#000" stroke-width="2.15"/>
<line x1="998" y1="628.4" x2="1927.2" y2="628.4" stroke="#000" stroke-width="2.8"/>
<line x1="1041.6" y1="334.6" x2="1041.6" y2="601.6" stroke="#000" stroke-width="2.15"/>
<line x1="1230" y1="334.6" x2="1230" y2="629.8" stroke="#000" stroke-width="2.15"/>
<line x1="1322" y1="394.2" x2="1322" y2="629.8" stroke="#000" stroke-width="2.15"/>
<line x1="1409.2" y1="365.8" x2="1409.2" y2="629.8" stroke="#000" stroke-width="2.15"/>
<line x1="1501.6" y1="394.2" x2="1501.6" y2="629.8" stroke="#000" stroke-width="2.15"/>
<line x1="1596" y1="365.8" x2="1596" y2="629.8" stroke="#000" stroke-width="2.15"/>
<line x1="1681.2" y1="394.2" x2="1681.2" y2="629.8" stroke="#000" stroke-width="2.15"/>
<line x1="1760" y1="334.6" x2="1760" y2="629.8" stroke="#000" stroke-width="2.15"/>
<line x1="1842" y1="394.2" x2="1842" y2="629.8" stroke="#000" stroke-width="2.15"/>
<line x1="999.6" y1="334.6" x2="999.6" y2="629.8" stroke="#1c1c66" stroke-width="3.2"/>
<line x1="1001.2" y1="336.6" x2="1001.2" y2="627.8" stroke="#2020c8" stroke-width="0.9"/>
<line x1="1925.2" y1="335.6" x2="1925.2" y2="629.8" stroke="#0000c0" stroke-width="4"/>
<text x="1008.33" y="394.00" font-size="20.7" font-weight="bold" textLength="23.62" lengthAdjust="spacingAndGlyphs">№</text>
<text x="1090.54" y="394.00" font-size="20.7" font-weight="bold" textLength="91.05" lengthAdjust="spacingAndGlyphs">Company</text>
<text x="1426.93" y="358.00" font-size="20.7" font-weight="bold" textLength="141.90" lengthAdjust="spacingAndGlyphs">Gasoline (tug/l)</text>
<text x="1792.02" y="358.00" font-size="20.7" font-weight="bold" textLength="101.08" lengthAdjust="spacingAndGlyphs">Diesel fuel</text>
<text x="1816.29" y="385.00" font-size="20.7" font-weight="bold" textLength="53.36" lengthAdjust="spacingAndGlyphs">(tug/l)</text>
<text x="1308.27" y="386.60" font-size="20.7" font-weight="bold" textLength="22.61" lengthAdjust="spacingAndGlyphs">80</text>
<text x="1491.62" y="386.60" font-size="20.7" font-weight="bold" textLength="23.07" lengthAdjust="spacingAndGlyphs">92</text>
<text x="1667.65" y="386.60" font-size="20.7" font-weight="bold" textLength="22.67" lengthAdjust="spacingAndGlyphs">95</text>
<text x="1251.48" y="423.00" font-size="20.7" font-weight="bold" textLength="48.62" lengthAdjust="spacingAndGlyphs">8-Jul</text>
<text x="1334.91" y="423.00" font-size="20.7" font-weight="bold" textLength="61.43" lengthAdjust="spacingAndGlyphs">19-Jul</text>
<text x="1431.28" y="423.00" font-size="20.7" font-weight="bold" textLength="47.86" lengthAdjust="spacingAndGlyphs">8-Jul</text>
<text x="1518.48" y="423.00" font-size="20.7" font-weight="bold" textLength="60.75" lengthAdjust="spacingAndGlyphs">19-Jul</text>
<text x="1614.28" y="423.00" font-size="20.7" font-weight="bold" textLength="47.86" lengthAdjust="spacingAndGlyphs">8-Jul</text>
<text x="1690.72" y="423.00" font-size="20.7" font-weight="bold" textLength="60.60" lengthAdjust="spacingAndGlyphs">19-Jul</text>
<text x="1776.48" y="423.00" font-size="20.7" font-weight="bold" textLength="48.80" lengthAdjust="spacingAndGlyphs">8-Jul</text>
<text x="1852.91" y="423.00" font-size="20.7" font-weight="bold" textLength="61.43" lengthAdjust="spacingAndGlyphs">19-Jul</text>
<text transform="translate(1020.5 458.6) scale(1.005 1)" font-size="21.3" text-anchor="middle">1</text>
<text x="1046.00" y="458.60" font-size="21.3" textLength="126.43" lengthAdjust="spacingAndGlyphs">Sunkhlai LLC</text>
<text transform="translate(1274.6 458.6) scale(1.005 1)" font-size="21.3" text-anchor="middle">2350</text>
<text transform="translate(1365.4 458.6) scale(1.005 1)" font-size="21.3" text-anchor="middle">2350</text>
<text transform="translate(1454.7 458.6) scale(1.005 1)" font-size="21.3" text-anchor="middle">2390</text>
<text transform="translate(1548.8 458.6) scale(1.005 1)" font-size="21.3" text-anchor="middle">2390</text>
<text transform="translate(1637.7 458.6) scale(1.005 1)" font-size="21.3" text-anchor="middle">3910</text>
<text transform="translate(1719.5 458.6) scale(1.005 1)" font-size="21.3" text-anchor="middle">4210</text>
<text transform="translate(1801.7 458.6) scale(1.005 1)" font-size="21.3" text-anchor="middle">3730</text>
<text transform="translate(1883.5 458.6) scale(1.005 1)" font-size="21.3" text-anchor="middle">4030</text>
<text transform="translate(1020.5 485.8) scale(1.005 1)" font-size="21.3" text-anchor="middle">2</text>
<text x="1045.90" y="485.80" font-size="21.3" textLength="161.69" lengthAdjust="spacingAndGlyphs">Sod Mongol Grop</text>
<text transform="translate(1274.6 485.8) scale(1.005 1)" font-size="21.3" text-anchor="middle">2340</text>
<text transform="translate(1365.4 485.8) scale(1.005 1)" font-size="21.3" text-anchor="middle">2340</text>
<text transform="translate(1454.7 485.8) scale(1.005 1)" font-size="21.3" text-anchor="middle">2385</text>
<text transform="translate(1548.8 485.8) scale(1.005 1)" font-size="21.3" text-anchor="middle">2385</text>
<text transform="translate(1637.7 485.8) scale(1.005 1)" font-size="21.3" text-anchor="middle">3910</text>
<text transform="translate(1719.5 485.8) scale(1.005 1)" font-size="21.3" text-anchor="middle">4210</text>
<text transform="translate(1801.7 485.8) scale(1.005 1)" font-size="21.3" text-anchor="middle">3730</text>
<text transform="translate(1883.5 485.8) scale(1.005 1)" font-size="21.3" text-anchor="middle">4030</text>
<text transform="translate(1020.5 513.2) scale(1.005 1)" font-size="21.3" text-anchor="middle">3</text>
<text x="1045.57" y="513.20" font-size="21.3" textLength="172.64" lengthAdjust="spacingAndGlyphs">Magnai Trade LLC</text>
<text transform="translate(1274.6 513.2) scale(1.005 1)" font-size="21.3" text-anchor="middle">3150</text>
<text transform="translate(1365.4 513.2) scale(1.005 1)" font-size="21.3" text-anchor="middle">3150</text>
<text transform="translate(1454.7 513.2) scale(1.005 1)" font-size="21.3" text-anchor="middle">2390</text>
<text transform="translate(1548.8 513.2) scale(1.005 1)" font-size="21.3" text-anchor="middle">2390</text>
<text transform="translate(1637.7 513.2) scale(1.005 1)" font-size="21.3" text-anchor="middle">3910</text>
<text transform="translate(1719.5 513.2) scale(1.005 1)" font-size="21.3" text-anchor="middle">4210</text>
<text transform="translate(1801.7 513.2) scale(1.005 1)" font-size="21.3" text-anchor="middle">3730</text>
<text transform="translate(1883.5 513.2) scale(1.005 1)" font-size="21.3" text-anchor="middle">4030</text>
<text transform="translate(1020.5 540.8) scale(1.005 1)" font-size="21.3" text-anchor="middle">4</text>
<text x="1045.91" y="540.80" font-size="21.3" textLength="119.33" lengthAdjust="spacingAndGlyphs">Petrovis LLC</text>
<text transform="translate(1274.6 540.8) scale(1.005 1)" font-size="21.3" text-anchor="middle">2370</text>
<text transform="translate(1365.4 540.8) scale(1.005 1)" font-size="21.3" text-anchor="middle">2370</text>
<text transform="translate(1454.7 540.8) scale(1.005 1)" font-size="21.3" text-anchor="middle">2390</text>
<text transform="translate(1548.8 540.8) scale(1.005 1)" font-size="21.3" text-anchor="middle">2390</text>
<text transform="translate(1637.7 540.8) scale(1.005 1)" font-size="21.3" text-anchor="middle">3910</text>
<text transform="translate(1719.5 540.8) scale(1.005 1)" font-size="21.3" text-anchor="middle">4210</text>
<text transform="translate(1801.7 540.8) scale(1.005 1)" font-size="21.3" text-anchor="middle">3730</text>
<text transform="translate(1883.5 540.8) scale(1.005 1)" font-size="21.3" text-anchor="middle">4030</text>
<text transform="translate(1020.5 568.0) scale(1.005 1)" font-size="21.3" text-anchor="middle">5</text>
<clipPath id="c5"><rect x="1043" y="546.8" width="185.8" height="27.200000000000045"/></clipPath>
<g clip-path="url(#c5)">
<text x="1046.74" y="568.00" font-size="21.3" textLength="182.95" lengthAdjust="spacingAndGlyphs">Tes Petroleum LLC</text>
</g>
<text transform="translate(1274.6 568.0) scale(1.005 1)" font-size="21.3" text-anchor="middle">2350</text>
<text transform="translate(1365.4 568.0) scale(1.005 1)" font-size="21.3" text-anchor="middle">2350</text>
<text transform="translate(1454.7 568.0) scale(1.005 1)" font-size="21.3" text-anchor="middle">2390</text>
<text transform="translate(1548.8 568.0) scale(1.005 1)" font-size="21.3" text-anchor="middle">2390</text>
<text transform="translate(1637.7 568.0) scale(1.005 1)" font-size="21.3" text-anchor="middle">3910</text>
<text transform="translate(1719.5 568.0) scale(1.005 1)" font-size="21.3" text-anchor="middle">4210</text>
<text transform="translate(1801.7 568.0) scale(1.005 1)" font-size="21.3" text-anchor="middle">3730</text>
<text transform="translate(1883.5 568.0) scale(1.005 1)" font-size="21.3" text-anchor="middle">4030</text>
<text transform="translate(1020.5 595.6) scale(1.005 1)" font-size="21.3" text-anchor="middle">6</text>
<text x="1046.06" y="595.60" font-size="21.3" textLength="117.22" lengthAdjust="spacingAndGlyphs">Monsuli LLC</text>
<text transform="translate(1274.6 595.6) scale(1.005 1)" font-size="21.3" text-anchor="middle">2320</text>
<text transform="translate(1365.4 595.6) scale(1.005 1)" font-size="21.3" text-anchor="middle">2320</text>
<text transform="translate(1454.7 595.6) scale(1.005 1)" font-size="21.3" text-anchor="middle">2335</text>
<text transform="translate(1548.8 595.6) scale(1.005 1)" font-size="21.3" text-anchor="middle">2335</text>
<text transform="translate(1637.7 595.6) scale(1.005 1)" font-size="21.3" text-anchor="middle">3585</text>
<text transform="translate(1719.5 595.6) scale(1.005 1)" font-size="21.3" text-anchor="middle">3885</text>
<text transform="translate(1801.7 595.6) scale(1.005 1)" font-size="21.3" text-anchor="middle">3730</text>
<text transform="translate(1883.5 595.6) scale(1.005 1)" font-size="21.3" text-anchor="middle">4030</text>
<text x="1041.70" y="623.00" font-size="21.0" font-weight="bold" textLength="144.52" lengthAdjust="spacingAndGlyphs">Average prices</text>
<text transform="translate(1274.8999999999999 622.8) scale(1.015 1)" font-size="21.0" text-anchor="middle" font-weight="bold">2,480</text>
<text transform="translate(1365.7 622.8) scale(1.015 1)" font-size="21.0" text-anchor="middle" font-weight="bold">2,480</text>
<text transform="translate(1455.0 622.8) scale(1.015 1)" font-size="21.0" text-anchor="middle" font-weight="bold">2,380</text>
<text transform="translate(1549.1 622.8) scale(1.015 1)" font-size="21.0" text-anchor="middle" font-weight="bold">2,380</text>
<text transform="translate(1638.0 622.8) scale(1.015 1)" font-size="21.0" text-anchor="middle" font-weight="bold">3,834</text>
<text transform="translate(1719.8 622.8) scale(1.015 1)" font-size="21.0" text-anchor="middle" font-weight="bold">3,834</text>
<text transform="translate(1802.0 622.8) scale(1.015 1)" font-size="21.0" text-anchor="middle" font-weight="bold">3,730</text>
<text transform="translate(1883.8 622.8) scale(1.015 1)" font-size="21.0" text-anchor="middle" font-weight="bold">4,030</text>
</g>
</svg>
</body></html>
